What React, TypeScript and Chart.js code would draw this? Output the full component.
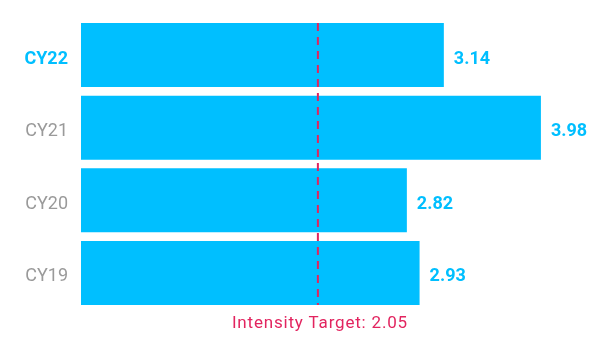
import React, { useEffect, useRef } from "react";
import { Chart, registerables } from "chart.js";

Chart.register(...registerables);

const categories = ["CY22", "CY21", "CY20", "CY19"];
const values = [3.14, 3.98, 2.82, 2.93];
const targetValue = 2.05;
const targetLabel = "Intensity Target: 2.05";

const BAR = "#00BFFF";
const GRAY = "#9a9a9a";
const TARGET = "#E2245F";
const FONT = "Roboto, 'DejaVu Sans', sans-serif";

export default function App() {
  const ref = useRef<HTMLCanvasElement | null>(null);
  useEffect(() => {
    if (!ref.current) return;
    const overlay = {
      id: "overlay",
      afterDatasetsDraw(chart: any) {
        const ctx = chart.ctx;
        const meta = chart.getDatasetMeta(0);
        ctx.save();
        ctx.font = `bold 18px ${FONT}`;
        ctx.fillStyle = BAR;
        ctx.textAlign = "left";
        ctx.textBaseline = "middle";
        meta.data.forEach((bar: any, i: number) => {
          ctx.fillText(values[i].toFixed(2), bar.x + 10, bar.y + 4);
        });
        const first = meta.data[0];
        const last = meta.data[meta.data.length - 1];
        const top = first.y - first.height / 2;
        const bottom = last.y + last.height / 2;
        const x = chart.scales.x.getPixelForValue(targetValue);
        ctx.strokeStyle = TARGET;
        ctx.lineWidth = 2;
        ctx.setLineDash([8, 6]);
        ctx.beginPath();
        ctx.moveTo(x, top);
        ctx.lineTo(x, bottom);
        ctx.stroke();
        ctx.setLineDash([]);
        ctx.font = `17px ${FONT}`;
        try {
          (ctx as any).letterSpacing = "0.8px";
        } catch (e) {}
        ctx.fillStyle = TARGET;
        ctx.textAlign = "center";
        ctx.fillText(targetLabel, x + 2, bottom + 19);
        ctx.restore();
      },
    };
    const chart = new Chart(ref.current, {
      type: "bar",
      data: {
        labels: categories,
        datasets: [
          {
            data: values,
            backgroundColor: BAR,
            borderWidth: 0,
            barPercentage: 0.88,
            categoryPercentage: 1,
          },
        ],
      },
      options: {
        indexAxis: "y",
        animation: false,
        responsive: false,
        maintainAspectRatio: false,
        layout: { padding: { top: 10.7, bottom: 43.7, left: 0, right: 1 } },
        plugins: { legend: { display: false }, tooltip: { enabled: false } },
        scales: {
          x: { display: false, min: 0, max: 4.5 },
          y: {
            grid: { display: false },
            border: { display: false },
            afterFit: (s: any) => {
              s.width = 73;
              s.paddingTop = 0;
              s.paddingBottom = 0;
            },
            ticks: {
              padding: 5,
              labelOffset: 4,
              color: (c: any) => (c.index === 0 ? BAR : GRAY),
              font: (c: any) => ({
                family: FONT,
                size: 18,
                weight: c.index === 0 ? "bold" : "normal",
              }),
            },
          },
        },
      },
      plugins: [overlay],
    });
    return () => chart.destroy();
  }, []);
  return (
    <canvas
      ref={ref}
      width={594}
      height={345}
      style={{ display: "block", width: 594, height: 345 }}
    />
  );
}
